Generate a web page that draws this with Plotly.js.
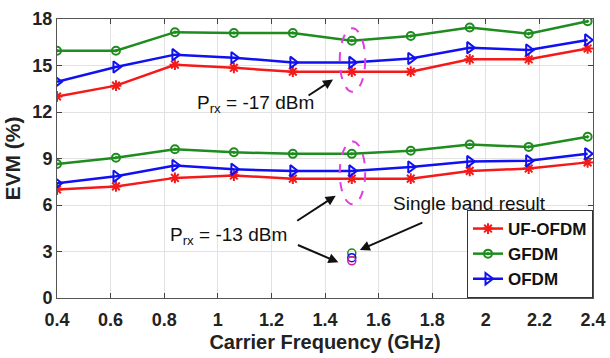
<!DOCTYPE html>
<html>
<head>
<meta charset="utf-8">
<script src="https://cdn.plot.ly/plotly-3.0.1.min.js"></script>
<style>html,body{margin:0;padding:0;background:#fff;}#chart{width:610px;height:358px;}</style>
</head>
<body>
<div id="chart"></div>
<script>
// Carrier frequencies (GHz)
const freq = [0.4, 0.62, 0.84, 1.06, 1.28, 1.5, 1.72, 1.94, 2.16, 2.38];
// EVM (%) at Prx = -17 dBm
const ufHigh = [13.0, 13.7, 15.05, 14.85, 14.6, 14.6, 14.6, 15.4, 15.4, 16.1];
const gfHigh = [15.95, 15.95, 17.15, 17.1, 17.1, 16.6, 16.9, 17.45, 17.05, 17.85];
const ofHigh = [13.95, 14.9, 15.7, 15.5, 15.2, 15.2, 15.45, 16.15, 16.0, 16.65];
// EVM (%) at Prx = -13 dBm
const ufLow = [7.0, 7.2, 7.75, 7.9, 7.7, 7.7, 7.7, 8.2, 8.35, 8.75];
const gfLow = [8.65, 9.05, 9.6, 9.4, 9.3, 9.3, 9.5, 9.9, 9.75, 10.4];
const ofLow = [7.4, 7.85, 8.55, 8.3, 8.2, 8.2, 8.45, 8.8, 8.85, 9.3];
// Single band result
const singleFreq = [1.5];
const ufSingle = [2.4];
const gfSingle = [2.9];
const ofSingle = [2.6];
// Tick labels
const xTickVals = [0.4, 0.6, 0.8, 1.0, 1.2, 1.4, 1.6, 1.8, 2.0, 2.2, 2.4];
const xTickText = ['0.4', '0.6', '0.8', '1', '1.2', '1.4', '1.6', '1.8', '2', '2.2', '2.4'];
const yTickVals = [0, 3, 6, 9, 12, 15, 18];

const RED = '#f41a1a', GREEN = '#1e8c1e', BLUE = '#1010f0';
const FONT = 'Arial, "Liberation Sans", sans-serif';

function line(name, y, color, symbol, size, show) {
  return {
    x: freq, y: y, name: name, type: 'scatter', mode: 'lines+markers',
    legendgroup: name, showlegend: show,
    line: {color: color, width: 2.5},
    marker: {symbol: symbol, size: size, color: color, line: {color: color, width: 2}}
  };
}
function single(name, y, color) {
  return {
    x: singleFreq, y: y, name: name, type: 'scatter', mode: 'markers',
    legendgroup: name, showlegend: false,
    marker: {symbol: 'circle-open', size: 8, color: color, line: {color: color, width: 1.5}}
  };
}

const traces = [
  line('UF-OFDM', ufHigh, RED, 'asterisk-open', 9, true),
  line('GFDM', gfHigh, GREEN, 'circle-open-dot', 8, true),
  line('OFDM', ofHigh, BLUE, 'triangle-right-open', 10, true),
  line('UF-OFDM', ufLow, RED, 'asterisk-open', 9, false),
  line('GFDM', gfLow, GREEN, 'circle-open-dot', 8, false),
  line('OFDM', ofLow, BLUE, 'triangle-right-open', 10, false),
  single('GFDM', gfSingle, GREEN),
  single('OFDM', ofSingle, BLUE),
  single('UF-OFDM', ufSingle, '#d0209a')
];

const annFont = {family: FONT, size: 19, color: '#111'};
const arrow = {showarrow: true, arrowhead: 2, arrowsize: 1, arrowwidth: 2, arrowcolor: '#111', text: ''};

const layout = {
  width: 610, height: 358,
  margin: {l: 57, r: 17, t: 19, b: 60},
  paper_bgcolor: '#fff', plot_bgcolor: '#fff',
  font: {family: FONT, color: '#222'},
  xaxis: {
    range: [0.4, 2.4], tickvals: xTickVals, ticktext: xTickText,
    showgrid: true, gridcolor: '#e2e2e2', gridwidth: 1,
    ticks: 'inside', ticklen: 5, tickcolor: '#444',
    showline: true, linecolor: '#555', linewidth: 1, mirror: 'ticks',
    zeroline: false, ticklabelstandoff: 5,
    tickfont: {family: FONT, size: 18, color: '#222', weight: 'bold'},
    title: {text: 'Carrier Frequency (GHz)', font: {family: FONT, size: 20, color: '#222', weight: 'bold'}, standoff: 6}
  },
  yaxis: {
    range: [0, 18], tickvals: yTickVals,
    showgrid: true, gridcolor: '#e2e2e2', gridwidth: 1,
    ticks: 'inside', ticklen: 5, tickcolor: '#444',
    showline: true, linecolor: '#555', linewidth: 1, mirror: 'ticks',
    zeroline: false,
    tickfont: {family: FONT, size: 18, color: '#222', weight: 'bold'},
    title: {text: 'EVM (%)', font: {family: FONT, size: 21, color: '#222', weight: 'bold'}, standoff: 6}
  },
  legend: {
    x: 1, xanchor: 'right', y: 0, yanchor: 'bottom',
    bgcolor: '#fff', bordercolor: '#333', borderwidth: 1,
    font: {family: FONT, size: 17, color: '#111', weight: 'bold'},
    tracegroupgap: 0, itemwidth: 30
  },
  shapes: [
    {type: 'circle', xref: 'x', yref: 'y', x0: 1.455, x1: 1.55, y0: 13.3, y1: 17.4,
     line: {color: '#e040e0', width: 2, dash: 'dash'}},
    {type: 'circle', xref: 'x', yref: 'y', x0: 1.455, x1: 1.55, y0: 6.05, y1: 10.1,
     line: {color: '#e040e0', width: 2, dash: 'dash'}}
  ],
  annotations: [
    {x: 1.14, y: 12.5, xref: 'x', yref: 'y', text: 'P<sub>rx</sub> = -17 dBm', showarrow: false, font: annFont},
    Object.assign({x: 1.43, y: 14.1, xref: 'x', yref: 'y', ax: -26, ay: 17}, arrow),
    {x: 1.04, y: 4.0, xref: 'x', yref: 'y', text: 'P<sub>rx</sub> = -13 dBm', showarrow: false, font: annFont},
    Object.assign({x: 1.44, y: 6.6, xref: 'x', yref: 'y', ax: -40, ay: 26}, arrow),
    Object.assign({x: 1.45, y: 2.3, xref: 'x', yref: 'y', ax: -42, ay: -18}, arrow),
    {x: 1.94, y: 6.1, xref: 'x', yref: 'y', text: 'Single band result', showarrow: false, font: annFont},
    Object.assign({x: 1.53, y: 3.1, xref: 'x', yref: 'y', ax: 64, ay: -28}, arrow)
  ]
};

Plotly.newPlot('chart', traces, layout, {displayModeBar: false, staticPlot: true});
</script>
</body>
</html>
